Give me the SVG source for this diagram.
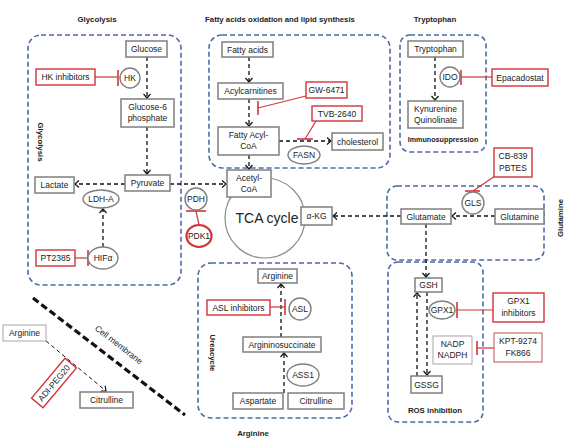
<svg xmlns="http://www.w3.org/2000/svg" width="572" height="445" viewBox="0 0 572 445">
<style>
text{font-family:"Liberation Sans",Arial,sans-serif;font-size:8.5px;fill:#222;text-anchor:middle}
.t{font-weight:bold;font-size:7.8px}
.ts{font-weight:bold;font-size:7.2px}
.tca{font-size:14px}
.box{fill:#fff;stroke:#7f7f7f;stroke-width:1.5}
.lbox{fill:#fff;stroke:#a6a6a6;stroke-width:1}
.rbox{fill:#fff;stroke:#d0343a;stroke-width:1.4}
.lrbox{fill:#fff;stroke:#c0504d;stroke-width:1}
.ell{fill:#fff;stroke:#7f7f7f;stroke-width:1.4}
.grp{fill:none;stroke:#4f6aa6;stroke-width:1.6;stroke-dasharray:5,3}
.arr{fill:none;stroke:#111;stroke-width:1.3;stroke-dasharray:4,3;marker-end:url(#ah)}
.inh{fill:none;stroke:#d0343a;stroke-width:1.2}
.bar{fill:none;stroke:#d0343a;stroke-width:1.6}
</style>
<defs>
<marker id="ah" markerUnits="userSpaceOnUse" markerWidth="10" markerHeight="10" refX="5" refY="4" orient="auto">
<path d="M1,0.5 L5,4 L1,7.5" fill="none" stroke="#111" stroke-width="1.2"/>
</marker>
</defs>
<rect width="572" height="445" fill="#fff"/>

<g id="groups">
<rect class="grp" x="28" y="35" width="153" height="250" rx="13"/>
<rect class="grp" x="209" y="35" width="181" height="133" rx="13"/>
<rect class="grp" x="400" y="35" width="86" height="117" rx="10"/>
<rect class="grp" x="387" y="186" width="157" height="74" rx="10"/>
<rect class="grp" x="388" y="262" width="95" height="160" rx="10"/>
<rect class="grp" x="198" y="263" width="154" height="155" rx="13"/>
</g>

<g id="titles">
<text class="t" x="97" y="22">Glycolysis</text>
<text class="t" x="280" y="22">Fatty acids oxidation and lipid synthesis</text>
<text class="t" x="435" y="22">Tryptophan</text>
<text class="ts" x="443" y="142">Immunosuppression</text>
<text class="t" x="435" y="413">ROS inhibition</text>
<text class="t" x="253" y="436">Arginine</text>
<text class="t" transform="translate(38,142) rotate(90)">Glycolysis</text>
<text class="t" transform="translate(210,353) rotate(90)">Ureacycle</text>
<text class="t" transform="translate(563,218) rotate(-90)">Glutamine</text>
</g>

<g id="tca"><circle cx="265" cy="218" r="40" fill="none" stroke="#8c8c8c" stroke-width="1.2"/><text class="tca" x="267" y="223">TCA cycle</text></g>

<g id="connectors">
<line class="arr" x1="147" y1="57" x2="147" y2="98"/>
<line class="arr" x1="147" y1="127" x2="147" y2="174"/>
<line class="arr" x1="125" y1="184" x2="75" y2="184"/>
<line class="arr" x1="103" y1="247" x2="103" y2="209"/>
<line class="arr" x1="170" y1="184" x2="226" y2="184"/>
<line class="arr" x1="249" y1="57" x2="249" y2="82"/>
<line class="arr" x1="249" y1="99" x2="249" y2="126"/>
<line class="arr" x1="279" y1="141" x2="331" y2="141"/>
<line class="arr" x1="249" y1="155" x2="249" y2="169"/>
<line class="arr" x1="435" y1="57" x2="435" y2="100"/>
<line class="arr" x1="495" y1="216" x2="452" y2="216"/>
<line class="arr" x1="401" y1="216" x2="333" y2="216"/>
<line class="arr" x1="426" y1="224" x2="426" y2="277"/>
<line class="arr" x1="417" y1="376" x2="417" y2="293"/>
<line class="arr" x1="427" y1="292" x2="427" y2="375"/>
<line class="arr" x1="281" y1="337" x2="281" y2="284"/>
<line class="arr" x1="284" y1="393" x2="284" y2="353"/>
<line class="arr" x1="46" y1="341" x2="106" y2="391" style="stroke-width:1"/>
<line x1="33" y1="298" x2="185" y2="415" stroke="#111" stroke-width="3.2" stroke-dasharray="7,3.5"/>
</g>

<g id="inhibitions">
<line class="inh" x1="95" y1="77" x2="118" y2="77"/><line class="bar" x1="118" y1="70" x2="118" y2="86"/>
<line class="inh" x1="75" y1="258" x2="88" y2="258"/><line class="bar" x1="88" y1="250" x2="88" y2="266"/>
<line class="inh" x1="199" y1="225" x2="196" y2="211"/><line class="bar" x1="186" y1="211" x2="206" y2="211"/>
<line class="inh" x1="306" y1="96" x2="258" y2="108"/><line class="bar" x1="258" y1="101" x2="258" y2="115"/>
<line class="inh" x1="316" y1="121" x2="305" y2="139"/><line class="bar" x1="297" y1="139" x2="313" y2="139"/>
<line class="inh" x1="492" y1="77" x2="461" y2="77"/><line class="bar" x1="461" y1="70" x2="461" y2="85"/>
<line class="inh" x1="495" y1="176" x2="473" y2="191"/><line class="bar" x1="465" y1="191" x2="480" y2="191"/>
<line class="inh" x1="493" y1="310" x2="457" y2="310"/><line class="bar" x1="457" y1="302" x2="457" y2="318"/>
<line class="inh" x1="494" y1="348" x2="477" y2="348"/><line class="bar" x1="477" y1="341" x2="477" y2="355"/>
<line class="inh" x1="270" y1="307" x2="285" y2="307"/><line class="bar" x1="285" y1="299" x2="285" y2="315"/>
</g>

<g id="membrane-label"><text transform="translate(117,347) rotate(37.6)">Cell membrane</text></g>

<g id="glucose"><rect class="box" x="126" y="41" width="41" height="16"/><text x="146.5" y="52">Glucose</text></g>
<g id="hk-inhibitors"><rect class="rbox" x="36" y="69" width="59" height="16"/><text x="65.5" y="80">HK inhibitors</text></g>
<g id="hk"><circle class="ell" cx="130" cy="78" r="10"/><text x="130" y="81">HK</text></g>
<g id="g6p"><rect class="box" x="121" y="99" width="53" height="28"/><text x="147.5" y="110">Glucose-6</text><text x="147.5" y="121">phosphate</text></g>
<g id="lactate"><rect class="box" x="35" y="177" width="39" height="16"/><text x="54.5" y="188">Lactate</text></g>
<g id="pyruvate"><rect class="box" x="125" y="175" width="45" height="16"/><text x="147.5" y="186">Pyruvate</text></g>
<g id="ldha"><ellipse class="ell" cx="101" cy="199" rx="18" ry="9"/><text x="101" y="202">LDH-A</text></g>
<g id="hifa"><ellipse class="ell" cx="103" cy="258" rx="15" ry="11"/><text x="103" y="261">HIFα</text></g>
<g id="pt2385"><rect class="rbox" x="36" y="250" width="39" height="16"/><text x="55.5" y="261">PT2385</text></g>
<g id="pdh"><circle class="ell" cx="196" cy="199" r="11"/><text x="196" y="202">PDH</text></g>
<g id="pdk1"><ellipse cx="199" cy="236" rx="12.5" ry="11" fill="#fff" stroke="#d0343a" stroke-width="2.2"/><text x="199" y="239">PDK1</text></g>

<g id="fatty-acids"><rect class="box" x="222" y="42" width="51" height="15"/><text x="247.5" y="52.5">Fatty acids</text></g>
<g id="acylcarnitines"><rect class="box" x="218" y="83" width="65" height="16"/><text x="250.5" y="94">Acylcarnitines</text></g>
<g id="gw6471"><rect class="rbox" x="306" y="82" width="41" height="16"/><text x="326.5" y="93">GW-6471</text></g>
<g id="fatty-acyl-coa"><rect class="box" x="218" y="127" width="61" height="28"/><text x="248.5" y="138">Fatty Acyl-</text><text x="248.5" y="149">CoA</text></g>
<g id="tvb2640"><rect class="rbox" x="312" y="106" width="50" height="15"/><text x="337" y="116.5">TVB-2640</text></g>
<g id="cholesterol"><rect class="box" x="332" y="133" width="51" height="17"/><text x="357.5" y="144.5">cholesterol</text></g>
<g id="fasn"><ellipse class="ell" cx="304" cy="155" rx="16" ry="9"/><text x="304" y="158">FASN</text></g>
<g id="acetyl-coa"><rect class="box" x="227" y="170" width="44" height="27"/><text x="249" y="181">Acetyl-</text><text x="249" y="192">CoA</text></g>
<g id="akg"><rect class="box" x="301" y="207" width="31" height="18"/><text x="316.5" y="219">α-KG</text></g>

<g id="tryptophan"><rect class="box" x="408" y="41" width="55" height="16"/><text x="435.5" y="52">Tryptophan</text></g>
<g id="ido"><circle class="ell" cx="450" cy="77" r="10"/><text x="450" y="80">IDO</text></g>
<g id="epacadostat"><rect class="rbox" x="492" y="69" width="56" height="17"/><text x="520" y="80.5">Epacadostat</text></g>
<g id="kynurenine"><rect class="box" x="408" y="101" width="55" height="27"/><text x="435.5" y="112">Kynurenine</text><text x="435.5" y="123">Quinolinate</text></g>

<g id="cb839"><rect class="rbox" x="494" y="148" width="38" height="29"/><text x="513" y="159">CB-839</text><text x="513" y="171">PBTES</text></g>
<g id="gls"><circle class="ell" cx="473" cy="203" r="11"/><text x="473" y="206">GLS</text></g>
<g id="glutamate"><rect class="box" x="401" y="209" width="50" height="15"/><text x="426" y="219.5">Glutamate</text></g>
<g id="glutamine"><rect class="box" x="495" y="209" width="49" height="15"/><text x="519.5" y="219.5">Glutamine</text></g>

<g id="gsh"><rect class="box" x="415" y="278" width="27" height="14"/><text x="428.5" y="288">GSH</text></g>
<g id="gpx1"><ellipse class="ell" cx="442" cy="310" rx="13" ry="9"/><text x="442" y="313">GPX1</text></g>
<g id="gpx1-inhibitors"><rect class="rbox" x="493" y="293" width="51" height="29"/><text x="518.5" y="304">GPX1</text><text x="518.5" y="316">inhibitors</text></g>
<g id="nadp"><rect class="lbox" x="433" y="336" width="39" height="28"/><text x="452.5" y="347">NADP</text><text x="452.5" y="358">NADPH</text></g>
<g id="kpt9274"><rect class="lrbox" x="494" y="333" width="48" height="29"/><text x="518" y="344">KPT-9274</text><text x="518" y="356">FK866</text></g>
<g id="gssg"><rect class="box" x="411" y="376" width="31" height="17"/><text x="426.5" y="387.5">GSSG</text></g>

<g id="arginine-urea"><rect class="box" x="258" y="269" width="39" height="14"/><text x="277.5" y="279">Arginine</text></g>
<g id="asl-inhibitors"><rect class="rbox" x="207" y="300" width="63" height="15"/><text x="238.5" y="310.5">ASL inhibitors</text></g>
<g id="asl"><circle class="ell" cx="300" cy="309" r="11"/><text x="300" y="312">ASL</text></g>
<g id="argininosuccinate"><rect class="box" x="243" y="337" width="78" height="15"/><text x="282" y="347.5">Argininosuccinate</text></g>
<g id="ass1"><ellipse class="ell" cx="303" cy="375" rx="16" ry="11"/><text x="303" y="378">ASS1</text></g>
<g id="aspartate"><rect class="box" x="233" y="393" width="50" height="16"/><text x="258" y="404">Aspartate</text></g>
<g id="citrulline-urea"><rect class="box" x="288" y="393" width="56" height="16"/><text x="316" y="404">Citrulline</text></g>

<g id="arginine-out"><rect class="lbox" x="3" y="325" width="43" height="16"/><text x="24.5" y="336">Arginine</text></g>
<g id="citrulline-out"><rect class="box" x="80" y="392" width="53" height="16"/><text x="106.5" y="403">Citrulline</text></g>
<g id="adi-peg20" transform="translate(54,383) rotate(-50)"><rect class="rbox" x="-26" y="-7.5" width="52" height="15"/><text x="0" y="3">ADI-PEG20</text></g>
</svg>
